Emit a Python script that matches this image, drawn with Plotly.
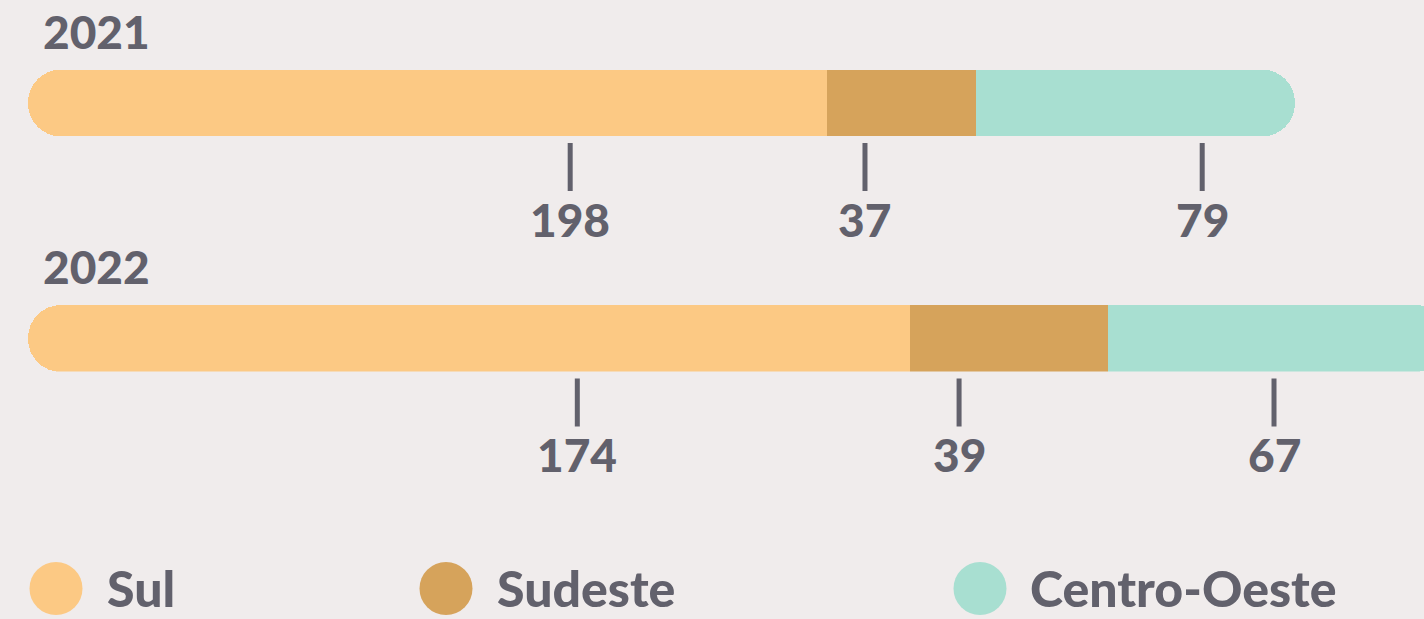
import plotly.graph_objects as go

# Data
years = ["2021", "2022"]
regions = ["Sul", "Sudeste", "Centro-Oeste"]
values_2021 = [198, 37, 79]
values_2022 = [174, 39, 67]

# Styling
colors = {"Sul": "#fcc984", "Sudeste": "#d6a35b", "Centro-Oeste": "#a8dfd1"}
bg = "#f0ecec"
ink = "#62616c"
font_family = "Lato"
weight = 900

W, H = 1424, 619
left_px = 27.5               # left edge of every bar
row_scale = [4.0366, 5.072]  # pixels per unit on each row's own axis
row_band = [(69.5, 136.0), (305.0, 371.5)]  # top/bottom of each bar, px from top
# where each value label sits, as a fraction along its segment
label_frac = [[0.679, 0.256, 0.709], [0.623, 0.248, 0.489]]

fig = go.Figure()
rows = [values_2021, values_2022]
shapes = []
annotations = []

for i, (year, vals) in enumerate(zip(years, rows)):
    xa = "x" if i == 0 else "x2"
    ya = "y" if i == 0 else "y2"
    # Sul runs leftwards from zero, the other regions stack rightwards,
    # so both outer ends of the stack get rounded caps.
    starts = [-vals[0]] + [sum(vals[1:k]) for k in range(1, len(vals))]
    signed = [-vals[0]] + vals[1:]
    for k, reg in enumerate(regions):
        v = vals[k]
        fig.add_trace(go.Bar(
            y=[year], x=[signed[k]], orientation="h",
            marker=dict(color=colors[reg], line=dict(width=0)),
            xaxis=xa, yaxis=ya, showlegend=False, hoverinfo="skip",
        ))
        # tick and value label under the segment
        pos = starts[k] + label_frac[i][k] * v
        shapes.append(dict(
            type="line", xref=xa, yref=f"{ya} domain",
            x0=pos, x1=pos, ysizemode="pixel", yanchor=0, y0=-7, y1=-55,
            line=dict(color=ink, width=5),
        ))
        annotations.append(dict(
            text=str(v), xref=xa, yref=f"{ya} domain", x=pos, y=0,
            xanchor="center", yanchor="middle", yshift=-83, showarrow=False,
            font=dict(family=font_family, size=46, color=ink, weight=weight),
        ))
    # year title
    annotations.append(dict(
        text=year, xref="paper", yref=f"{ya} domain",
        x=41 / W, y=1, xanchor="left", yanchor="middle", yshift=38,
        showarrow=False,
        font=dict(family=font_family, size=46, color=ink, weight=weight),
    ))

# Legend: circles and names
legend_cx = [56, 446, 980]
legend_tx = [105, 495, 1028]
legend_cy = 588.5
for reg, cx, tx in zip(regions, legend_cx, legend_tx):
    shapes.append(dict(
        type="circle", xref="paper", yref="paper",
        xsizemode="pixel", ysizemode="pixel",
        xanchor=cx / W, yanchor=1 - legend_cy / H,
        x0=-26.5, x1=26.5, y0=-26.5, y1=26.5,
        fillcolor=colors[reg], line=dict(width=0),
    ))
    annotations.append(dict(
        text=reg, xref="paper", yref="paper",
        x=tx / W, y=1 - (legend_cy - 1) / H, xanchor="left", yanchor="middle",
        showarrow=False,
        font=dict(family=font_family, size=50, color=ink, weight=weight),
    ))

axis_off = dict(visible=False, showgrid=False, zeroline=False, fixedrange=True)
layout = dict(
    width=W, height=H, margin=dict(l=0, r=0, t=0, b=0),
    paper_bgcolor=bg, plot_bgcolor=bg,
    barmode="relative", bargap=0, barcornerradius=33,
    shapes=shapes, annotations=annotations, showlegend=False,
)
for i, vals in enumerate(rows):
    sfx = "" if i == 0 else "2"
    s = row_scale[i]
    split_px = left_px + vals[0] * s   # where Sul meets Sudeste
    top, bot = row_band[i]
    layout["xaxis" + sfx] = dict(axis_off, domain=[0, 1],
                                 range=[-split_px / s, (W - split_px) / s],
                                 anchor="y" + sfx)
    layout["yaxis" + sfx] = dict(axis_off, domain=[1 - bot / H, 1 - top / H],
                                 anchor="x" + sfx)
fig.update_layout(**layout)

fig.write_html("out.html", config={"displayModeBar": False})
